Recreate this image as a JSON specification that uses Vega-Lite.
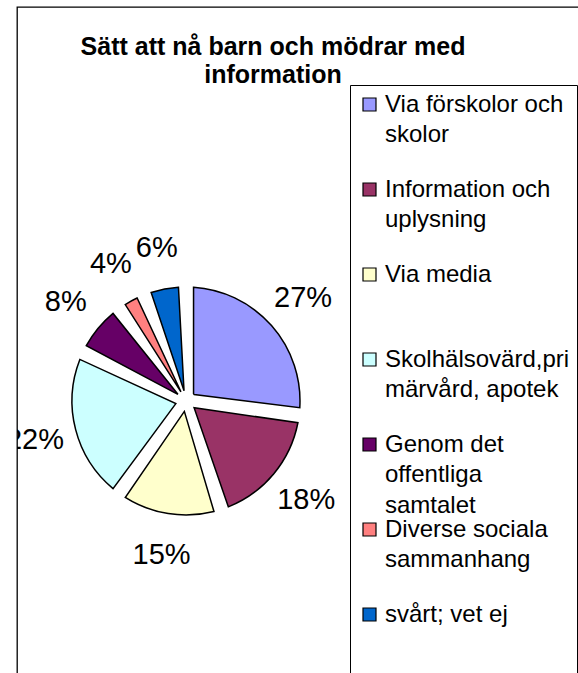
{
  "$schema": "https://vega.github.io/schema/vega-lite/v6.json",
  "width": 600,
  "height": 700,
  "autosize": {"type": "none"},
  "padding": {"left": 17, "top": 7, "right": 0, "bottom": 0},
  "background": "white",
  "view": {"stroke": "black", "strokeWidth": 1.3},
  "config": {"view": {"stroke": "black", "strokeWidth": 1.3}, "font": "Liberation Sans"},
  "title": {
    "text": ["Sätt att nå barn och mödrar med", "information"],
    "fontSize": 25,
    "fontWeight": "bold",
    "font": "Liberation Sans",
    "lineHeight": 28,
    "anchor": "middle",
    "dx": -44,
    "offset": -81,
    "color": "black"
  },
  "data": {
    "values": [
      {"nr": 1, "kategori": "Via förskolor och skolor", "andel": 0.27},
      {"nr": 2, "kategori": "Information och uplysning", "andel": 0.18},
      {"nr": 3, "kategori": "Via media", "andel": 0.15},
      {"nr": 4, "kategori": "Skolhälsovärd,primärvård, apotek", "andel": 0.22},
      {"nr": 5, "kategori": "Genom det offentliga samtalet", "andel": 0.08},
      {"nr": 6, "kategori": "Diverse sociala sammanhang", "andel": 0.04},
      {"nr": 7, "kategori": "svårt; vet ej", "andel": 0.06}
    ]
  },
  "encoding": {
    "theta": {"field": "andel", "type": "quantitative", "stack": true},
    "order": {"field": "nr", "type": "quantitative"}
  },
  "layer": [
    {
      "mark": {"type": "arc", "x": 169, "y": 394, "outerRadius": 114, "innerRadius": 10.5, "padAngle": 0.132, "stroke": "black", "strokeWidth": 1.5},
      "encoding": {
        "color": {
          "field": "kategori",
          "type": "nominal",
          "scale": {
            "domain": ["Via förskolor och skolor", "Information och uplysning", "Via media", "Skolhälsovärd,primärvård, apotek", "Genom det offentliga samtalet", "Diverse sociala sammanhang", "svårt; vet ej"],
            "range": ["#9999FF", "#993366", "#FFFFCC", "#CCFFFF", "#660066", "#FF8080", "#0066CC"]
          },
          "legend": {
            "orient": "none",
            "legendX": 333,
            "legendY": 78,
            "title": null,
            "strokeColor": "black",
            "fillColor": "white",
            "padding": 7.5,
            "symbolType": "square",
            "symbolSize": 169,
            "symbolStrokeColor": "black",
            "symbolStrokeWidth": 1.2,
            "symbolOpacity": 1,
            "labelFont": "Liberation Sans",
            "labelFontSize": 24,
            "labelColor": "black",
            "labelOffset": 3.5,
            "labelLimit": 300,
            "rowPadding": 0,
            "labelExpr": "datum.label == 'Via förskolor och skolor' ? ['Via förskolor och', 'skolor', ''] : datum.label == 'Information och uplysning' ? ['Information och', 'uplysning', ''] : datum.label == 'Via media' ? ['Via media', '', ''] : datum.label == 'Skolhälsovärd,primärvård, apotek' ? ['Skolhälsovärd,pri', 'märvård, apotek', ''] : datum.label == 'Genom det offentliga samtalet' ? ['Genom det', 'offentliga', 'samtalet'] : datum.label == 'Diverse sociala sammanhang' ? ['Diverse sociala', 'sammanhang', ''] : ['svårt; vet ej', '', '']",
            "encode": {"labels": {"update": {"lineHeight": {"value": 30.5}}}}
          }
        }
      }
    },
    {
      "mark": {"type": "text", "x": 169, "y": 394, "radius": 156, "fontSize": 29, "font": "Liberation Sans", "color": "black", "clip": true},
      "encoding": {
        "text": {"field": "andel", "type": "quantitative", "format": ".0%"}
      }
    }
  ]
}
